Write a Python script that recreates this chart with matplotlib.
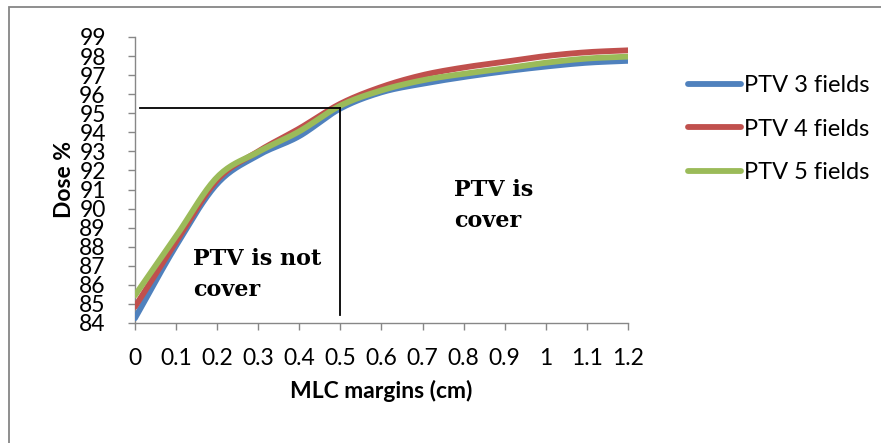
import numpy as np
import matplotlib
matplotlib.use("Agg")
import matplotlib.pyplot as plt
from matplotlib.patches import Rectangle

# MLC margin (cm) and mean PTV dose (%) for each beam arrangement
margins = [0.0, 0.1, 0.2, 0.3, 0.4, 0.5, 0.6, 0.7, 0.8, 0.9, 1.0, 1.1, 1.2]
dose_3_fields = [84.25, 88.05, 91.3, 92.8, 93.8, 95.25, 96.1, 96.55, 96.9, 97.2, 97.45, 97.65, 97.75]
dose_4_fields = [84.85, 88.25, 91.5, 93.0, 94.2, 95.5, 96.38, 97.0, 97.4, 97.7, 98.0, 98.2, 98.3]
dose_5_fields = [85.45, 88.55, 91.65, 92.97, 94.05, 95.4, 96.2, 96.73, 97.07, 97.35, 97.65, 97.87, 97.97]
series_labels = ["PTV 3 fields", "PTV 4 fields", "PTV 5 fields"]
series_colors = ["#4F81BD", "#C0504D", "#9BBB59"]

x_ticks = [0, 0.1, 0.2, 0.3, 0.4, 0.5, 0.6, 0.7, 0.8, 0.9, 1, 1.1, 1.2]
x_tick_labels = ["0", "0.1", "0.2", "0.3", "0.4", "0.5", "0.6", "0.7", "0.8", "0.9", "1", "1.1", "1.2"]
y_ticks = list(range(84, 100))

threshold_margin = 0.5
threshold_dose = 95.3


def smooth(x, y, n=20):
    """Catmull-Rom curve through the data points (spreadsheet-style smoothed line)."""
    x = np.asarray(x, float)
    y = np.asarray(y, float)
    px = np.concatenate([[2 * x[0] - x[1]], x, [2 * x[-1] - x[-2]]])
    py = np.concatenate([[2 * y[0] - y[1]], y, [2 * y[-1] - y[-2]]])
    t = np.linspace(0, 1, n, endpoint=False)
    xs, ys = [], []
    for i in range(1, len(px) - 2):
        for p, out in ((px, xs), (py, ys)):
            p0, p1, p2, p3 = p[i - 1], p[i], p[i + 1], p[i + 2]
            out.append(0.5 * ((2 * p1) + (-p0 + p2) * t
                              + (2 * p0 - 5 * p1 + 4 * p2 - p3) * t ** 2
                              + (-p0 + 3 * p1 - 3 * p2 + p3) * t ** 3))
    xs.append([x[-1]])
    ys.append([y[-1]])
    return np.concatenate(xs), np.concatenate(ys)


plt.rcParams["font.family"] = ["Lato", "DejaVu Sans"]

fig = plt.figure(figsize=(8.81, 4.43), dpi=100)
ax = fig.add_axes([0.1532, 0.2709, 0.5596, 0.6456])

for values, label, color in zip([dose_3_fields, dose_4_fields, dose_5_fields],
                                series_labels, series_colors):
    sx, sy = smooth(margins, values)
    ax.plot(sx, sy, color=color, lw=4.2, label=label, solid_capstyle="round", zorder=3)

# Coverage threshold guide lines
ax.plot([0.012, threshold_margin], [threshold_dose, threshold_dose], color="black", lw=1.3, zorder=4)
ax.plot([threshold_margin, threshold_margin], [threshold_dose, 84.4], color="black", lw=1.3, zorder=4)

serif = dict(family="DejaVu Serif", fontweight="bold", fontsize=16, ha="left", va="baseline")
ax.text(0.141, 87.03, "PTV is not", **serif)
ax.text(0.141, 85.4, "cover", **serif)
ax.text(0.776, 90.65, "PTV is", **serif)
ax.text(0.776, 89.02, "cover", **serif)

ax.set_xlim(0, 1.2)
ax.set_ylim(84, 99)
ax.set_xticks(x_ticks)
ax.set_xticklabels(x_tick_labels)
ax.set_yticks(y_ticks)

for side in ("top", "right"):
    ax.spines[side].set_visible(False)
for side in ("left", "bottom"):
    ax.spines[side].set_color("#878787")
    ax.spines[side].set_linewidth(1.0)
ax.tick_params(axis="both", colors="#878787", labelcolor="black", labelsize=16.5,
               length=5, width=1.0, direction="out")
ax.tick_params(axis="y", pad=16)
ax.tick_params(axis="x", pad=13)

ax.set_xlabel("MLC margins (cm)", fontsize=16.5, fontweight="bold", labelpad=8)
ax.set_ylabel("Dose %", fontsize=16.5, fontweight="bold", labelpad=3)

leg = ax.legend(loc="center left", bbox_to_anchor=(1.1217, 0.678), frameon=False,
                fontsize=17, handlelength=2.25, handletextpad=0.12, labelspacing=0.95,
                borderaxespad=0, borderpad=0)
for line in leg.get_lines():
    line.set_linewidth(4.2)

# Chart-area border
fig.patches.append(Rectangle((9 / 881, -0.1), 1.2, 1 - 7 / 443 + 0.1, transform=fig.transFigure,
                             fill=False, edgecolor="#868686", lw=1.3))

fig.savefig("out.png", dpi=100)
